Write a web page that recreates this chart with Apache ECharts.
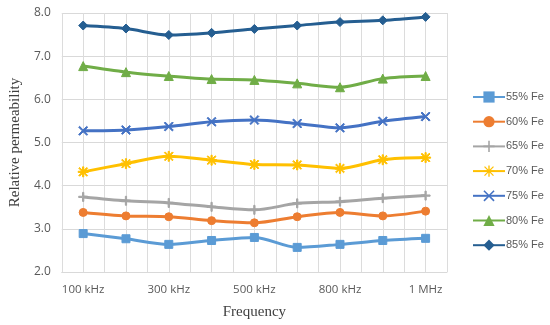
<!DOCTYPE html>
<html><head><meta charset="utf-8">
<script src="https://cdn.jsdelivr.net/npm/echarts@6/dist/echarts.min.js"></script>
<style>html,body{margin:0;padding:0;background:#fff}#c{width:550px;height:325px}</style>
</head><body><div id="c"></div>
<script>
const categories = ['100 kHz','200 kHz','300 kHz','400 kHz','500 kHz','700 kHz','800 kHz','900 kHz','1 MHz'];
const yTicks = [2.0, 3.0, 4.0, 5.0, 6.0, 7.0, 8.0];
const seriesNames = ['55% Fe','60% Fe','65% Fe','70% Fe','75% Fe','80% Fe','85% Fe'];
const fe55 = [2.89, 2.77, 2.64, 2.73, 2.80, 2.57, 2.64, 2.73, 2.78];
const fe60 = [3.38, 3.30, 3.28, 3.19, 3.14, 3.28, 3.38, 3.30, 3.41];
const fe65 = [3.74, 3.65, 3.60, 3.51, 3.44, 3.59, 3.63, 3.71, 3.77];
const fe70 = [4.32, 4.51, 4.68, 4.59, 4.49, 4.48, 4.40, 4.60, 4.65];
const fe75 = [5.27, 5.29, 5.37, 5.48, 5.52, 5.44, 5.34, 5.49, 5.60];
const fe80 = [6.77, 6.63, 6.54, 6.47, 6.45, 6.37, 6.28, 6.48, 6.54];
const fe85 = [7.71, 7.64, 7.49, 7.54, 7.63, 7.71, 7.79, 7.83, 7.91];

const values = [fe55, fe60, fe65, fe70, fe75, fe80, fe85];
const colors = ['#5B9BD5','#ED7D31','#A5A5A5','#FFC000','#4472C4','#70AD47','#255E91'];
const plusPath = 'path://M4.3,0H5.7V4.3H10V5.7H5.7V10H4.3V5.7H0V4.3H4.3Z';
const xPath = 'path://M0,1L1,0L5,4L9,0L10,1L6,5L10,9L9,10L5,6L1,10L0,9L4,5Z';
const starPath = 'path://M4.4,0H5.6V10H4.4Z M0,4.4H10V5.6H0Z M0.6,1.4L1.4,0.6L9.4,8.6L8.6,9.4Z M8.6,0.6L9.4,1.4L1.4,9.4L0.6,8.6Z';
const symbols = ['rect','circle',plusPath,starPath,xPath,'triangle','diamond'];
const sizes = [8, 8, 9, 10, 9, 9, 9];

const chart = echarts.init(document.getElementById('c'));
chart.setOption({
  animation: false,
  backgroundColor: '#fff',
  grid: {left: 55, right: 103, top: 13, bottom: 53},
  legend: {
    orient: 'vertical', left: 467, top: 85, itemGap: 10.7,
    itemWidth: 32, itemHeight: 14,
    textStyle: {color: '#595959', fontSize: 11, fontFamily: 'Liberation Sans', padding: [0,0,0,-4], lineHeight: 14},
    data: seriesNames
  },
  xAxis: [{
    type: 'category', data: categories, boundaryGap: true,
    name: 'Frequency', nameLocation: 'middle', nameGap: 33,
    nameTextStyle: {fontFamily: 'Liberation Serif', fontSize: 15, color: '#404040'},
    axisLine: {lineStyle: {color: '#d9d9d9'}},
    axisTick: {show: false},
    axisLabel: {interval: 1, color: '#595959', fontSize: 11.5, fontFamily: 'Open Sans', margin: 12},
    splitLine: {show: false}
  }, {
    type: 'value', min: 0, max: 18, interval: 1, show: true,
    axisLine: {show: false}, axisTick: {show: false}, axisLabel: {show: false},
    splitLine: {show: true, lineStyle: {color: '#dcdcdc', width: 1}}
  }],
  yAxis: {
    type: 'value', min: 2, max: 8, interval: 1,
    name: 'Relative permeability', nameLocation: 'middle', nameGap: 34, nameRotate: 90,
    nameTextStyle: {fontFamily: 'Liberation Serif', fontSize: 15, color: '#404040'},
    axisLine: {show: false}, axisTick: {show: false},
    axisLabel: {color: '#595959', fontSize: 12, fontFamily: 'Open Sans', margin: 11,
      formatter: v => yTicks.includes(v) ? v.toFixed(1) : ''},
    splitLine: {lineStyle: {color: '#d9d9d9'}}
  },
  series: seriesNames.map((n, i) => ({
    name: n, type: 'line', xAxisIndex: 0, data: values[i],
    smooth: 0.3, symbol: symbols[i], symbolSize: sizes[i], showAllSymbol: true,
    lineStyle: {color: colors[i], width: 3},
    itemStyle: {color: colors[i], borderColor: colors[i]}
  }))
});
</script></body></html>
